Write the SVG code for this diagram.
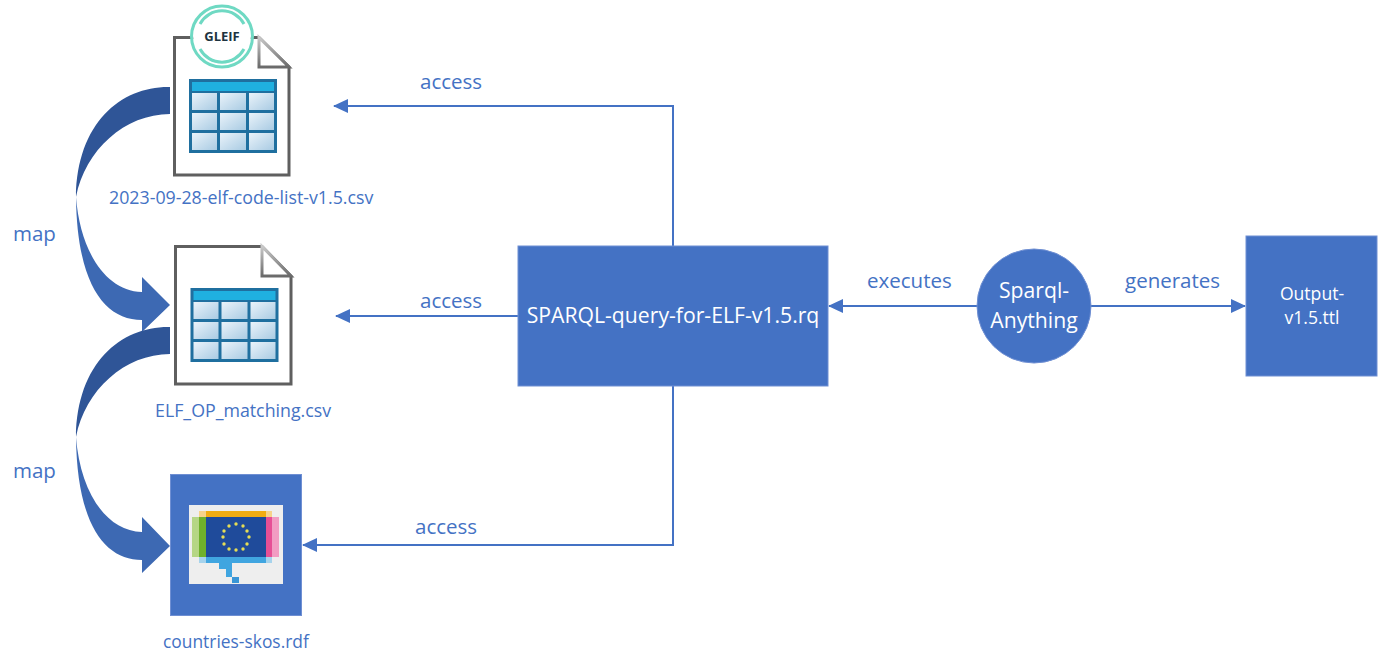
<svg xmlns="http://www.w3.org/2000/svg" width="1379" height="665" viewBox="0 0 1379 665">
<style>
text{font-family:"Open Sans","Noto Sans","Liberation Sans",sans-serif}
.l{fill:#4472c4;font-size:20.500px}
.f{fill:#4472c4;font-size:17.800px}
.w{fill:#fff;text-anchor:middle}
.box{fill:#4472c4;stroke:#6f8fd3;stroke-width:1}
.c{fill:none;stroke:#4472c4;stroke-width:2}
.doc{fill:#fff;stroke:#5f5f5f;stroke-width:3}
.tb{fill:#1f6f9f}
.th{fill:#1fb0e0}
.cell{fill:url(#cg)}
</style>
<defs>
<marker id="a" markerWidth="16" markerHeight="14" refX="14" refY="7" orient="auto" markerUnits="userSpaceOnUse"><path d="M0 0L15 7L0 14z" fill="#4472c4"/></marker>
<linearGradient id="cg" x1="0" y1="0" x2="1" y2="1"><stop offset="0" stop-color="#eaf3fa"/><stop offset="1" stop-color="#a9cbe3"/></linearGradient>
<linearGradient id="fg" x1="0" y1="0" x2="0" y2="1"><stop offset="0" stop-color="#c9c9c9"/><stop offset="1" stop-color="#6a6a6a"/></linearGradient>
<g id="sheet">
<rect class="tb" x="0" y="0" width="88" height="74"/>
<rect class="th" x="3" y="3" width="82" height="9"/>
<rect class="cell" x="3" y="14" width="25" height="17"/><rect class="cell" x="31" y="14" width="26" height="17"/><rect class="cell" x="60" y="14" width="25" height="17"/>
<rect class="cell" x="3" y="34" width="25" height="17"/><rect class="cell" x="31" y="34" width="26" height="17"/><rect class="cell" x="60" y="34" width="25" height="17"/>
<rect class="cell" x="3" y="54" width="25" height="17"/><rect class="cell" x="31" y="54" width="26" height="17"/><rect class="cell" x="60" y="54" width="25" height="17"/>
</g>
</defs>
<rect width="1379" height="665" fill="#fff"/>

<g id="connectors">
<path class="c" marker-end="url(#a)" d="M673 246V106H334"/>
<path class="c" marker-end="url(#a)" d="M518 316H336"/>
<path class="c" marker-end="url(#a)" d="M673 386V545H303"/>
<path class="c" marker-end="url(#a)" d="M978 306H829"/>
<path class="c" marker-end="url(#a)" d="M1091 306H1245"/>
<text class="l" x="420" y="89">access</text>
<text class="l" x="420" y="308">access</text>
<text class="l" x="415" y="534">access</text>
<text class="l" x="867" y="288">executes</text>
<text class="l" x="1125" y="288">generates</text>
</g>

<g id="map1">
<path fill="#2f5597" d="M170 87C122 86 77 122 76 197C85 150 125 114 170 114z"/>
<path fill="#3d69b3" d="M76 197C77 285 105 320 142 320V332L170 305L142 277V292C105 291 80 250 76 197z"/>
<text class="l" x="13" y="241">map</text>
</g>
<g id="map2">
<path fill="#2f5597" d="M170 327C122 326 77 362 76 437C85 390 125 354 170 354z"/>
<path fill="#3d69b3" d="M76 437C77 525 105 560 142 560V573L170 546L142 517V532C105 531 80 490 76 437z"/>
<text class="l" x="13" y="478">map</text>
</g>

<g id="elf-code-list">
<path class="doc" d="M174.500 37.500H259L289 67V175H174.500z"/>
<path d="M259 37.500V67H289z" fill="#fff" stroke="url(#fg)" stroke-width="3"/>
<use href="#sheet" x="189" y="79"/>
<circle cx="222" cy="36" r="29" fill="#fff"/>
<circle cx="222" cy="36.500" r="30.500" fill="none" stroke="#6fd9c3" stroke-width="3"/>
<path d="M200 24A25 25 0 0 1 244 24M244 49A25 25 0 0 1 200 49" fill="none" stroke="#6fd9c3" stroke-width="3"/>
<text x="222" y="41" text-anchor="middle" font-size="13" font-weight="700" fill="#1d3340">GLEIF</text>
<text class="f" x="109" y="204">2023-09-28-elf-code-list-v1.5.csv</text>
</g>

<g id="elf-op-matching">
<path class="doc" d="M175.500 246.500H262L291 276V384H175.500z"/>
<path d="M262 246.500V276H291z" fill="#fff" stroke="url(#fg)" stroke-width="3"/>
<use href="#sheet" x="190.500" y="288"/>
<text class="f" x="155" y="417">ELF_OP_matching.csv</text>
</g>

<g id="countries-skos">
<rect class="box" x="170.500" y="474.500" width="131" height="141"/>
<rect x="189" y="505" width="94" height="79" fill="#eeeeee"/>
<rect x="199" y="511" width="7" height="6" fill="#f7d28a"/>
<rect x="206" y="511" width="60" height="6" fill="#f1ac12"/>
<rect x="266" y="511" width="6" height="6" fill="#f7d28a"/>
<rect x="192" y="517" width="7" height="40" fill="#b5d685"/>
<rect x="199" y="517" width="7" height="40" fill="#6fb12b"/>
<rect x="206" y="517" width="60" height="40" fill="#1f4b9b"/>
<rect x="266" y="517" width="6" height="40" fill="#e64f95"/>
<rect x="272" y="517" width="7" height="40" fill="#f29cc2"/>
<rect x="199" y="557" width="7" height="6" fill="#a6d3ec"/>
<rect x="206" y="557" width="60" height="6" fill="#40a5e0"/>
<rect x="266" y="557" width="6" height="6" fill="#a6d3ec"/>
<path d="M219 563H232V577H226V569H219z" fill="#40a5e0"/>
<rect x="232" y="577" width="7" height="6" fill="#3a96d6"/>
<g fill="#e6dd55"><circle cx="236" cy="524" r="1.700"/><circle cx="243" cy="526" r="1.700"/><circle cx="247" cy="531" r="1.700"/><circle cx="249" cy="537" r="1.700"/><circle cx="247" cy="544" r="1.700"/><circle cx="243" cy="549" r="1.700"/><circle cx="236" cy="550" r="1.700"/><circle cx="229" cy="549" r="1.700"/><circle cx="224" cy="544" r="1.700"/><circle cx="223" cy="537" r="1.700"/><circle cx="224" cy="531" r="1.700"/><circle cx="229" cy="526" r="1.700"/></g>
<text class="f" x="163" y="648" style="font-size:17.400px">countries-skos.rdf</text>
</g>

<g id="sparql-query">
<rect class="box" x="518" y="246" width="310" height="140"/>
<text class="w" x="673" y="323" font-size="21.200">SPARQL-query-for-ELF-v1.5.rq</text>
</g>
<g id="sparql-anything">
<circle cx="1034" cy="306" r="57" fill="#4472c4" stroke="#6f8fd3"/>
<text class="w" x="1034" y="298" font-size="21.200">Sparql-</text>
<text class="w" x="1034" y="328" font-size="21.200">Anything</text>
</g>
<g id="output">
<rect class="box" x="1246" y="236" width="131" height="140"/>
<text class="w" x="1312" y="300" font-size="17.600">Output-</text>
<text class="w" x="1312" y="324" font-size="17.600">v1.5.ttl</text>
</g>
</svg>
